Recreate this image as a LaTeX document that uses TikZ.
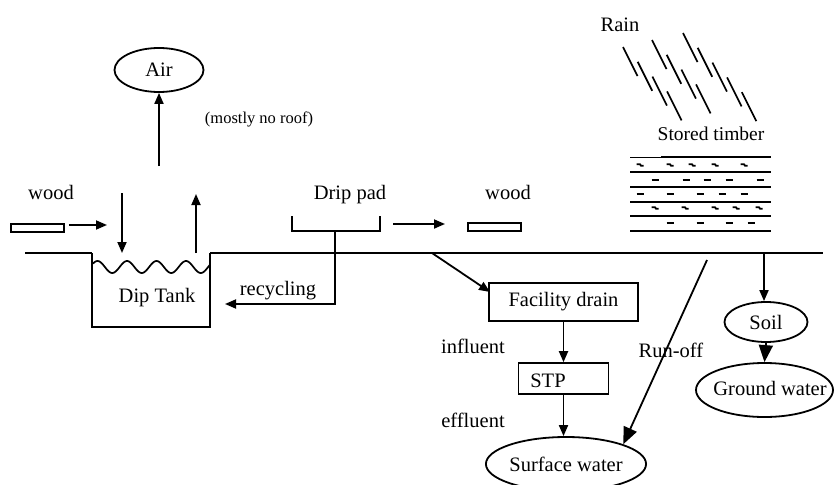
\documentclass[tikz,border=0pt]{standalone}
\usepackage{fontspec}
\setmainfont{Liberation Serif}
\usetikzlibrary{shapes.geometric,arrows.meta}
\begin{document}
\begin{tikzpicture}[x=1pt,y=-1pt,
  lbl/.style={inner sep=0pt, anchor=base, font=\fontsize{20.5}{24}\selectfont},
  smalllbl/.style={inner sep=0pt, anchor=base, font=\fontsize{16.5}{20}\selectfont},
  ell/.style={draw, ellipse, line width=1.8pt, inner sep=0pt, font=\fontsize{20.5}{24}\selectfont},
  boxnode/.style={draw, rectangle, line width=1.6pt, inner sep=0pt, font=\fontsize{20.5}{24}\selectfont},
  woodrect/.style={draw, rectangle, line width=1.6pt, minimum width=53pt, minimum height=8pt, inner sep=0pt},
  arr/.style={line width=1.8pt, -{Triangle[length=11pt,width=9pt]}},
  bigarr/.style={line width=1.8pt, -{Triangle[length=17pt,width=14pt]}},
  ln/.style={line width=1.7pt},
  ground/.style={line width=1.1pt},
  rain/.style={line width=1.7pt},
  dsh/.style={line width=2pt},
]
\useasboundingbox (0,0) rectangle (834,484);

% ground line
\draw[ground] (25,253) -- (92,253);
\draw[ground] (210,253) -- (823,253);

% dip tank
\draw[ln] (92,253) -- (92,327) -- (210,327) -- (210,253);
\draw[ln] plot[domain=93:210, samples=120] (\x, {267 - 6*cos((\x-97.5)*12.2)});
\node[lbl] (diptank) at (157,302) {Dip Tank};

% air
\node[ell, minimum width=89pt, minimum height=44pt] (air) at (159,70) {Air};
\coordinate (aira) at (159,166);
\draw[arr] (aira) -- (air.south);
\node[smalllbl] (roof) at (259,123) {(mostly no roof)};

% wood left
\node[lbl] (woodlbl1) at (51,199) {wood};
\node[woodrect] (wood1) at (37.5,228) {};
\coordinate (w1a) at (69,225);
\coordinate (w1b) at (107,225);
\draw[arr] (w1a) -- (w1b);

% arrows into / out of tank
\coordinate (dina) at (122,193);
\coordinate (dinb) at (122,253);
\draw[arr] (dina) -- (dinb);
\coordinate (upa) at (196,253);
\coordinate (upb) at (196,194);
\draw[arr] (upa) -- (upb);

% drip pad
\node[lbl] (driplbl) at (350,199) {Drip pad};
\draw[ln] (292,216) -- (292,231) -- (380,231) -- (380,216);
\coordinate (dpc) at (335,231);
\coordinate (dpd) at (335,304);
\coordinate (rec) at (225,304);
\draw[arr] (dpc) -- (dpd) -- (rec);
\node[lbl] (recyc) at (278,295) {recycling};

% to wood right
\coordinate (dpa) at (393,224);
\coordinate (dpb) at (445,224);
\draw[arr] (dpa) -- (dpb);
\node[woodrect] (wood2) at (494.5,227) {};
\node[lbl] (woodlbl2) at (508,199) {wood};

% rain
\node[lbl] (rainlbl) at (620,32) {Rain};
\foreach \sx/\sy/\n in {623/47/4, 652/40/4, 683/33/5} {
  \foreach \i in {1,...,\n} {
    \draw[rain] (\sx+14.7*\i-14.7, \sy+14.8*\i-14.8) -- ++(14.5,29);
  }
}

% stored timber
\node[lbl, font=\fontsize{19.5}{23}\selectfont] (timberlbl) at (711,140) {Stored timber};
\draw[line width=0.9pt] (630,157) -- (661,157);
\draw[ln] (661,157) -- (771,157);
\foreach \yy in {172,187,202,216,231} {
  \draw[ln] (630,\yy) -- (771,\yy);
}
\foreach \xx in {640,670,692,715,744} {
  \draw[line width=1.8pt] (\xx-3.5,164.3) -- (\xx,164.3) -- (\xx+1,165.7) -- (\xx+3.5,165.7);
}
\foreach \xx in {655,686,707,729,760} {
  \draw[dsh] (\xx-3.5,179.5) -- (\xx+3.5,179.5);
}
\foreach \xx in {640,670,700,722,744} {
  \draw[dsh] (\xx-3.5,194) -- (\xx+3.5,194);
}
\foreach \xx in {655,685,715,736,759} {
  \draw[line width=1.8pt] (\xx-3.5,207.3) -- (\xx,207.3) -- (\xx+1,208.7) -- (\xx+3.5,208.7);
}
\foreach \xx in {670,700,729,751} {
  \draw[dsh] (\xx-3.5,223) -- (\xx+3.5,223);
}

% facility drain chain
\node[boxnode, minimum width=149pt, minimum height=38pt] (fd) at (563.5,302) {Facility drain};
\coordinate (fda) at (432,253);
\coordinate (fdin) at (490,292);
\draw[arr] (fda) -- (fdin);
\node[boxnode, minimum width=90pt, minimum height=31pt] (stp) at (563.5,378.5) {};
\node[lbl] (stplbl) at (548,387) {STP};
\draw[arr] (fd.south) -- (stp.north);
\node[lbl] (influent) at (473,353) {influent};
\node[ell, minimum width=148pt, minimum height=54pt] (sw) at (566,464) {Surface water};
\draw[arr] (stp.south) -- (stp.south |- sw.north);
\node[lbl] (effluent) at (473,427) {effluent};

% run-off
\node[lbl] (runoff) at (671,357) {Run-off};
\coordinate (roa) at (707,260);
\draw[bigarr] (roa) -- (sw.north east);

% soil and ground water
\node[ell, minimum width=83pt, minimum height=40pt] (soil) at (766,322) {Soil};
\coordinate (soa) at (764,253);
\draw[arr] (soa) -- (soa |- soil.north);
\node[ell, minimum width=137pt, minimum height=54pt] (gw) at (764.5,390) {};
\node[lbl] (gwlbl) at (770,395) {Ground water};
\draw[bigarr] (soil.south) -- (gw.north);
\end{tikzpicture}
\end{document}
